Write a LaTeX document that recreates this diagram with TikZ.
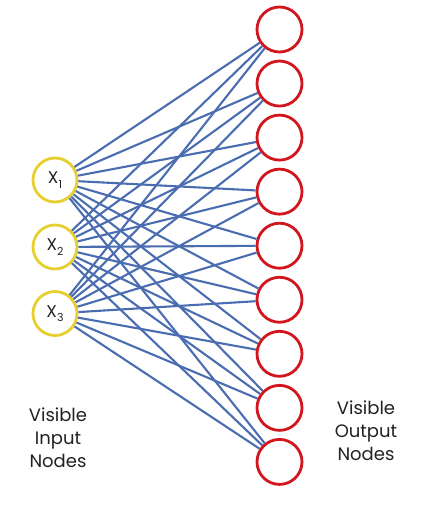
\documentclass[tikz,border=0pt]{standalone}
\usepackage{fontspec}
\setmainfont{Poppins}
\definecolor{linkblue}{HTML}{4A6DB2}
\definecolor{inyellow}{HTML}{E6CF2E}
\definecolor{outred}{HTML}{D2161E}
\definecolor{txt}{HTML}{222222}
\begin{document}
\begin{tikzpicture}[x=1pt,y=-1pt,
  innode/.style={circle,draw=inyellow,line width=2.8pt,fill=white,minimum size=44pt,inner sep=0pt,font=\fontsize{17}{20}\selectfont,text=txt},
  outnode/.style={circle,draw=outred,line width=2.8pt,fill=white,minimum size=45pt,inner sep=0pt},
  link/.style={draw=linkblue,line width=2.1pt},
  lbl/.style={align=center,font=\fontsize{18}{23}\selectfont,text=txt}]
\useasboundingbox (0,0) rectangle (426,517);
\fill[white] (0,0) rectangle (426,517);
\node[innode] (i1) at (55,180) {X\raisebox{-0.5ex}{\fontsize{11}{12}\selectfont 1}};
\node[innode] (i2) at (55,247) {X\raisebox{-0.5ex}{\fontsize{11}{12}\selectfont 2}};
\node[innode] (i3) at (55,313.5) {X\raisebox{-0.5ex}{\fontsize{11}{12}\selectfont 3}};
\foreach \k in {1,...,9} {
  \node[outnode] (o\k) at (279.5,{29.5+54.05*(\k-1)}) {};
}
\foreach \i in {1,2,3} {
  \foreach \k in {1,...,9} {
    \draw[link] (i\i) -- (o\k);
  }
}
\node[lbl] (lin) at (58,438) {Visible\\Input\\Nodes};
\node[lbl] (lout) at (366,431) {Visible\\Output\\Nodes};
\end{tikzpicture}
\end{document}
